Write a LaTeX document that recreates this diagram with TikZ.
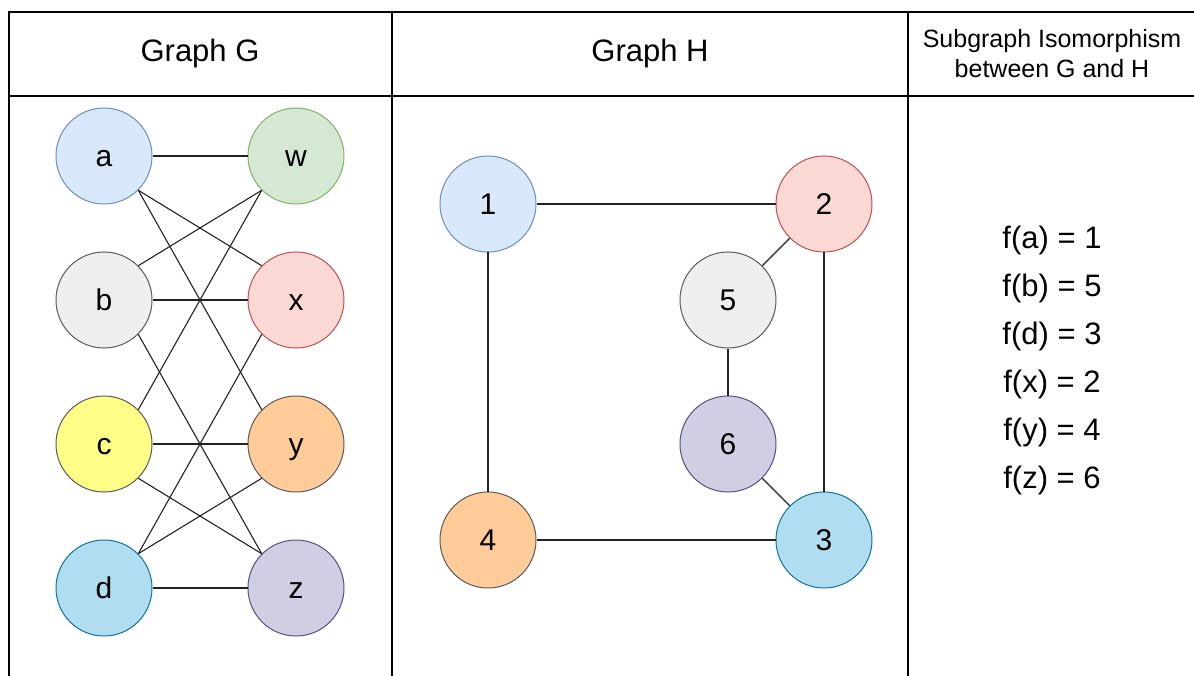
\documentclass[tikz,border=0pt]{standalone}
\usepackage{fontspec}
\setmainfont{Liberation Sans}
\definecolor{aF}{HTML}{DAE8FC}\definecolor{aS}{HTML}{6C8EBF}
\definecolor{wF}{HTML}{D5E8D4}\definecolor{wS}{HTML}{82B366}
\definecolor{bF}{HTML}{EEEEEE}\definecolor{gS}{HTML}{5A5A5A}
\definecolor{xF}{HTML}{FAD9D5}\definecolor{xS}{HTML}{C0504D}
\definecolor{cF}{HTML}{FFFF88}
\definecolor{yF}{HTML}{FFCC99}
\definecolor{dF}{HTML}{B1DDF0}\definecolor{dS}{HTML}{10739E}
\definecolor{zF}{HTML}{D0CEE2}\definecolor{zS}{HTML}{56517E}
\definecolor{edgeC}{HTML}{222222}
\tikzset{
  vtx/.style={circle, minimum size=96pt, inner sep=0pt, line width=1pt, text height=21.5pt, text depth=0pt, font=\fontsize{30}{34}\selectfont},
  edg/.style={draw=edgeC, line width=1.1pt},
  grid/.style={draw=black, line width=1.2pt},
  hdr/.style={font=\fontsize{31}{36}\selectfont},
  sub/.style={font=\fontsize{25}{30}\selectfont, align=center},
  map/.style={font=\fontsize{31}{36}\selectfont},
}
\begin{document}
\begin{tikzpicture}[x=1pt,y=-1pt]
\useasboundingbox (0,0) rectangle (1194,676);
% table
\draw[grid] (1194,12) -- (9,12) -- (9,676);
\draw[grid] (9,96) -- (1194,96);
\draw[grid] (392,12) -- (392,676);
\draw[grid] (908,12) -- (908,676);
\node[hdr] (hG) at (200,53) {Graph G};
\node[hdr] (hH) at (650,53) {Graph H};
\node[sub] (hS) at (1052,54) {Subgraph Isomorphism\\between G and H};
% graph G
\node[vtx, fill=aF, draw=aS] (a) at (104,156) {a};
\node[vtx, fill=wF, draw=wS] (w) at (296,156) {w};
\node[vtx, fill=bF, draw=gS] (b) at (104,300) {b};
\node[vtx, fill=xF, draw=xS] (x) at (296,300) {x};
\node[vtx, fill=cF, draw=gS] (c) at (104,444) {c};
\node[vtx, fill=yF, draw=gS] (y) at (296,444) {y};
\node[vtx, fill=dF, draw=dS] (d) at (104,588) {d};
\node[vtx, fill=zF, draw=zS] (z) at (296,588) {z};
\draw[edg] (a.east) -- (w.west);
\draw[edg] (a.-45) -- (x.135);
\draw[edg] (a.-45) -- (y.135);
\draw[edg] (b.45) -- (w.-135);
\draw[edg] (b.east) -- (x.west);
\draw[edg] (b.-45) -- (z.135);
\draw[edg] (c.45) -- (w.-135);
\draw[edg] (c.east) -- (y.west);
\draw[edg] (c.-45) -- (z.135);
\draw[edg] (d.45) -- (x.-135);
\draw[edg] (d.45) -- (y.-135);
\draw[edg] (d.east) -- (z.west);
% graph H
\node[vtx, fill=aF, draw=aS] (n1) at (488,204) {1};
\node[vtx, fill=xF, draw=xS] (n2) at (824,204) {2};
\node[vtx, fill=bF, draw=gS] (n5) at (728,300) {5};
\node[vtx, fill=zF, draw=zS] (n6) at (728,444) {6};
\node[vtx, fill=yF, draw=gS] (n4) at (488,540) {4};
\node[vtx, fill=dF, draw=dS] (n3) at (824,540) {3};
\draw[edg] (n1) -- (n2);
\draw[edg] (n1) -- (n4);
\draw[edg] (n4) -- (n3);
\draw[edg] (n2) -- (n3);
\draw[edg] (n2) -- (n5);
\draw[edg] (n5) -- (n6);
\draw[edg] (n6) -- (n3);
% mapping
\node[map] (m1) at (1052,240) {f(a) = 1};
\node[map] (m2) at (1052,288) {f(b) = 5};
\node[map] (m3) at (1052,336) {f(d) = 3};
\node[map] (m4) at (1052,384) {f(x) = 2};
\node[map] (m5) at (1052,432) {f(y) = 4};
\node[map] (m6) at (1052,480) {f(z) = 6};
\end{tikzpicture}
\end{document}
